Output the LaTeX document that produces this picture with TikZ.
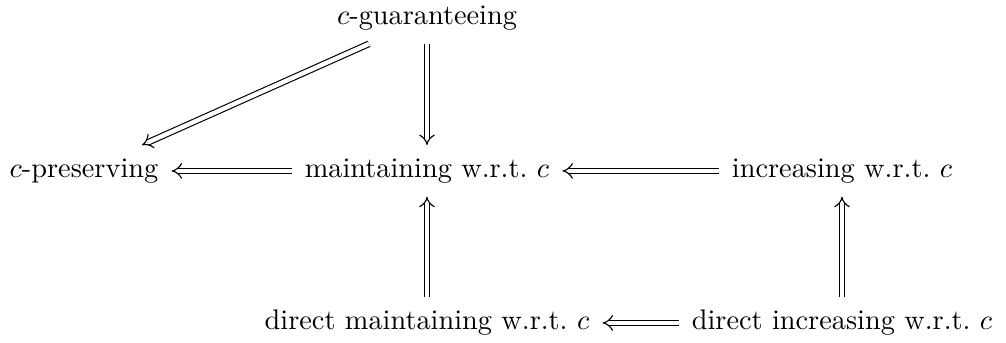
\documentclass[tikz,border=0pt]{standalone}
\usetikzlibrary{arrows.meta}
\begin{document}
\begin{tikzpicture}[x=0.35336pt,y=-0.35336pt,
  lbl/.style={inner sep=4.5pt, text height=6.94pt, text depth=1.94pt, anchor=base},
  imp/.style={double, double equal sign distance, -{Implies}, line width=0.4pt}]
\useasboundingbox (0,0) rectangle (1006,343);
\node[lbl] (cg) at (427,25) {$c$-guaranteeing};
\node[lbl] (cp) at (84,178) {$c$-preserving};
\node[lbl] (mt) at (427,178) {maintaining w.r.t.\ $c$};
\node[lbl] (inc) at (842,178) {increasing w.r.t.\ $c$};
\node[lbl] (dm) at (427,330) {direct maintaining w.r.t.\ $c$};
\node[lbl] (di) at (842,330) {direct increasing w.r.t.\ $c$};
\draw[imp] (cg) -- (cp);
\draw[imp] (cg) -- (mt);
\draw[imp] (mt) -- (cp);
\draw[imp] (inc) -- (mt);
\draw[imp] (dm) -- (mt);
\draw[imp] (di) -- (inc);
\draw[imp] (di) -- (dm);
\end{tikzpicture}
\end{document}
